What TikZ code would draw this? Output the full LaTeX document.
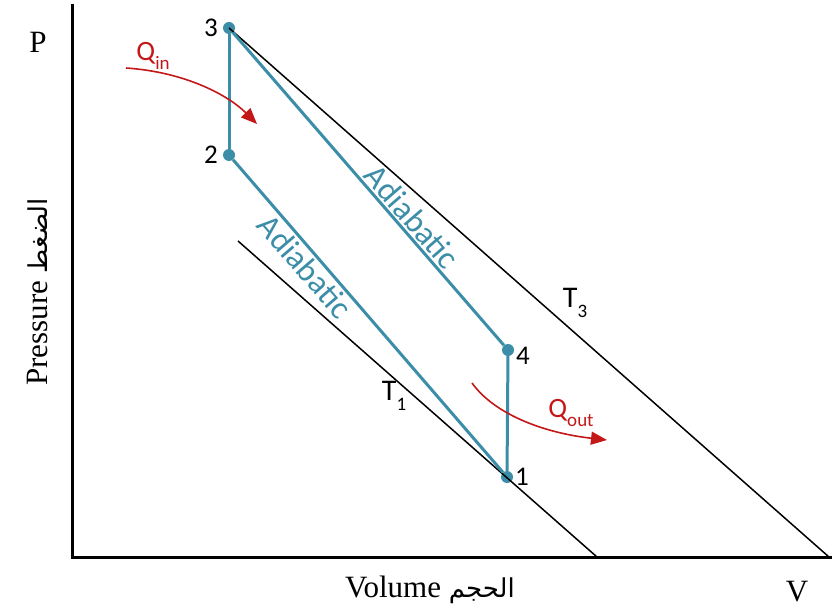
\documentclass[tikz,border=0pt]{standalone}
\usepackage{fontspec}
\setmainfont{Liberation Serif}
\newfontfamily\labelfont{Carlito}
\newfontfamily\arabicfont[Script=Arabic]{DejaVu Sans}
\TeXXeTstate=1
\usetikzlibrary{positioning, arrows.meta}

\definecolor{cycleblue}{RGB}{60,142,168}
\definecolor{heatred}{RGB}{196,24,24}
\newcommand{\lowsub}[1]{\raisebox{-0.32em}{\fontsize{19}{19}\selectfont #1}}

\begin{document}
\begin{tikzpicture}
    [
        x=1pt, y=-1pt,
        node distance=4pt and 4pt,
        axis/.style={line width=3pt},
        isotherm/.style={line width=1.5pt},
        process/.style={draw=cycleblue, line width=3pt},
        statept/.style={circle, fill=cycleblue, inner sep=0pt, minimum size=12pt},
        ptlabel/.style={font=\labelfont\fontsize{27}{27}\selectfont, inner sep=0pt},
        templabel/.style={font=\labelfont\fontsize{30}{30}\selectfont, inner sep=0pt},
        heatlabel/.style={text=heatred, font=\labelfont\fontsize{28}{28}\selectfont, inner sep=0pt},
        adiab/.style={text=cycleblue, font=\labelfont\fontsize{33}{33}\selectfont, sloped, inner sep=2pt},
        axlabel/.style={font=\fontsize{31}{34}\selectfont, inner sep=0pt},
        heat/.style={draw=heatred, line width=1.6pt, -{Triangle[length=16pt, width=13pt, fill=heatred]}}
    ]
        \useasboundingbox (0,0) rectangle (832,612);
        % =========================================================================
        % NODES
        % =========================================================================
        % --- Axes ---
        \coordinate (origin) at (72,557);
        \coordinate (ytop) at (72,4);
        \coordinate (xend) at (832,557);
        \node [axlabel] (plabel) at (38,42) {P};
        \node [axlabel, rotate=90] (presslabel) at (38,292) {Pressure {\fontsize{26}{30}\arabicfont\beginR الضغط\endR}};
        \node [axlabel] (vollabel) at (430,590) {Volume {\fontsize{26}{30}\arabicfont\beginR الحجم\endR}};
        \node [axlabel] (vlabel) at (797,592) {V};

        % --- States ---
        \node [statept] (p3) at (229,28) {};
        \node [statept] (p2) at (229,155) {};
        \node [statept] (p4) at (508,350) {};
        \node [statept] (p1) at (507,477) {};
        \node [ptlabel, left=11pt of p3.center] (n3) {3};
        \node [ptlabel, left=11pt of p2.center] (n2) {2};
        \node [ptlabel, right=8pt of p4.center, yshift=-6pt] (n4) {4};
        \node [ptlabel, right=8pt of p1.center] (n1) {1};

        % --- Isotherms ---
        \coordinate (t3end) at (829,557);
        \coordinate (t1start) at (238,241);
        \coordinate (t1end) at (597,557);
        \node [templabel] (t3label) at (575,303) {T\lowsub{3}};
        \node [templabel] (t1label) at (394,396) {T\lowsub{1}};

        % --- Heat ---
        \coordinate (qinstart) at (126,68);
        \coordinate (qinend) at (257,124);
        \coordinate (qoutstart) at (472,383);
        \coordinate (qoutend) at (607,440);
        \node [heatlabel] (qinlabel) at (153,56) {Q\lowsub{in}};
        \node [heatlabel] (qoutlabel) at (571,413) {Q\lowsub{out}};

        % =========================================================================
        % PATHS
        % =========================================================================
        %  Axes
        \draw [axis] (ytop) -- (origin) -- (xend);
        %  Isotherms
        \draw [isotherm] (p3.center) -- (t3end);
        \draw [isotherm] (t1start) -- (t1end);
        %  Cycle
        \draw [process] (p2) -- (p3);
        \draw [process] (p3) -- node [adiab, above, pos=0.62] {Adiabatic} (p4);
        \draw [process] (p4) -- (p1);
        \draw [process] (p2) -- node [adiab, below, pos=0.31] {Adiabatic} (p1);
        %  Heat in / out
        \draw [heat] (qinstart) .. controls (185,72) and (228,95) .. (qinend);
        \draw [heat] (qoutstart) .. controls (495,415) and (545,433) .. (qoutend);

    \end{tikzpicture}
\end{document}
